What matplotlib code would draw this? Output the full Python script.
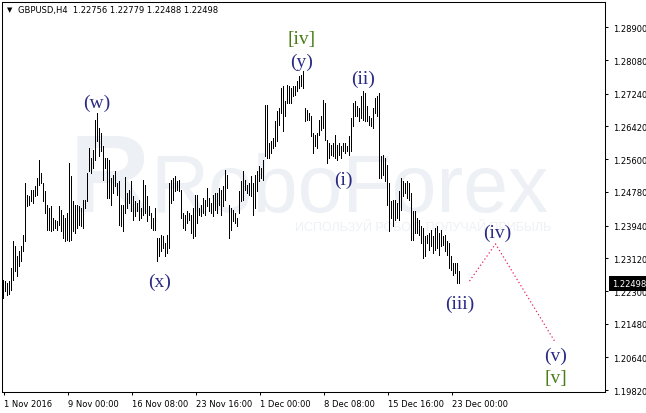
import matplotlib
matplotlib.use("Agg")
import matplotlib.pyplot as plt
import matplotlib.transforms as mtransforms
import numpy as np

# ---------------- data (GBPUSD H4 bars) ----------------
bar_high = [
    1.2256, 1.2254, 1.2249, 1.2254, 1.2286, 1.2354, 1.2341, 1.2316, 1.2329, 1.2341,
    1.2369, 1.2499, 1.2469, 1.2466, 1.2481, 1.2481, 1.2491, 1.2511, 1.2556, 1.2524,
    1.2499, 1.2479, 1.2444, 1.2436, 1.2441, 1.2411, 1.2406, 1.2404, 1.2441, 1.2431,
    1.2419, 1.2411, 1.2424, 1.2549, 1.2516, 1.2454, 1.2444, 1.2444, 1.2441, 1.2436,
    1.2456, 1.2456, 1.2524, 1.2586, 1.2561, 1.2581, 1.2656, 1.2674, 1.2636, 1.2624,
    1.2591, 1.2561, 1.2561, 1.2556, 1.2511, 1.2519, 1.2529, 1.2499, 1.2504, 1.2444,
    1.2444, 1.2514, 1.2474, 1.2481, 1.2504, 1.2466, 1.2454, 1.2449, 1.2456, 1.2436,
    1.2506, 1.2494, 1.2466, 1.2441, 1.2424, 1.2411, 1.2436, 1.2361, 1.2361, 1.2369,
    1.2366, 1.2349, 1.2369, 1.2499, 1.2506, 1.2511, 1.2516, 1.2504, 1.2506, 1.2481,
    1.2424, 1.2419, 1.2429, 1.2424, 1.2419, 1.2436, 1.2469, 1.2469, 1.2436, 1.2444,
    1.2461, 1.2456, 1.2486, 1.2461, 1.2449, 1.2469, 1.2474, 1.2474, 1.2486, 1.2481,
    1.2491, 1.2531, 1.2519, 1.2444, 1.2436, 1.2431, 1.2424, 1.2411, 1.2479, 1.2504,
    1.2529, 1.2506, 1.2494, 1.2499, 1.2516, 1.2499, 1.2519, 1.2529, 1.2541, 1.2536,
    1.2556, 1.2694, 1.2694, 1.2599, 1.2604, 1.2611, 1.2654, 1.2679, 1.2686, 1.2736,
    1.2741, 1.2704, 1.2744, 1.2741, 1.2736, 1.2741, 1.2741, 1.2754, 1.2766, 1.2769,
    1.2779, 1.2686, 1.2681, 1.2674, 1.2666, 1.2624, 1.2619, 1.2624, 1.2656, 1.2666,
    1.2706, 1.2699, 1.2606, 1.2599, 1.2594, 1.2599, 1.2619, 1.2594, 1.2599, 1.2591,
    1.2599, 1.2599, 1.2591, 1.2616, 1.2661, 1.2699, 1.2704, 1.2691, 1.2686, 1.2716,
    1.2729, 1.2724, 1.2691, 1.2666, 1.2661, 1.2686, 1.2711, 1.2716, 1.2724, 1.2566,
    1.2569, 1.2561, 1.2544, 1.2499, 1.2454, 1.2456, 1.2456, 1.2449, 1.2479, 1.2511,
    1.2504, 1.2499, 1.2504, 1.2499, 1.2474, 1.2429, 1.2429, 1.2411, 1.2406, 1.2391,
    1.2386, 1.2366, 1.2369, 1.2374, 1.2381, 1.2366, 1.2386, 1.2391, 1.2374, 1.2381,
    1.2366, 1.2369, 1.2354, 1.2349, 1.2316, 1.2299, 1.2299, 1.2299, 1.22779,
]
bar_low = [
    1.2211, 1.2229, 1.2219, 1.2221, 1.2231, 1.2256, 1.2279, 1.2266, 1.2291, 1.2304,
    1.2329, 1.2354, 1.2441, 1.2444, 1.2454, 1.2449, 1.2466, 1.2469, 1.2494, 1.2499,
    1.2454, 1.2424, 1.2381, 1.2381, 1.2379, 1.2381, 1.2386, 1.2381, 1.2394, 1.2379,
    1.2361, 1.2354, 1.2356, 1.2354, 1.2356, 1.2379, 1.2374, 1.2386, 1.2394, 1.2391,
    1.2386, 1.2436, 1.2454, 1.2529, 1.2524, 1.2536, 1.2556, 1.2604, 1.2566, 1.2579,
    1.2506, 1.2536, 1.2461, 1.2461, 1.2444, 1.2474, 1.2491, 1.2469, 1.2394, 1.2391,
    1.2379, 1.2424, 1.2436, 1.2449, 1.2429, 1.2406, 1.2416, 1.2429, 1.2406, 1.2411,
    1.2419, 1.2424, 1.2404, 1.2419, 1.2386, 1.2381, 1.2381, 1.2304, 1.2316, 1.2329,
    1.2336, 1.2316, 1.2324, 1.2336, 1.2449, 1.2456, 1.2479, 1.2481, 1.2479, 1.2411,
    1.2386, 1.2381, 1.2399, 1.2406, 1.2374, 1.2361, 1.2366, 1.2399, 1.2419, 1.2416,
    1.2424, 1.2419, 1.2441, 1.2429, 1.2424, 1.2416, 1.2431, 1.2424, 1.2444, 1.2419,
    1.2441, 1.2456, 1.2486, 1.2361, 1.2381, 1.2404, 1.2399, 1.2391, 1.2424, 1.2454,
    1.2456, 1.2481, 1.2474, 1.2469, 1.2466, 1.2419, 1.2436, 1.2479, 1.2504, 1.2511,
    1.2506, 1.2566, 1.2561, 1.2561, 1.2574, 1.2586, 1.2591, 1.2604, 1.2644, 1.2674,
    1.2629, 1.2666, 1.2699, 1.2699, 1.2699, 1.2716, 1.2719, 1.2729, 1.2736, 1.2741,
    1.2736, 1.2654, 1.2656, 1.2656, 1.2616, 1.2574, 1.2591, 1.2586, 1.2619, 1.2631,
    1.2636, 1.2606, 1.2549, 1.2561, 1.2569, 1.2566, 1.2561, 1.2556, 1.2569, 1.2561,
    1.2579, 1.2574, 1.2579, 1.2569, 1.2579, 1.2641, 1.2666, 1.2666, 1.2654, 1.2661,
    1.2656, 1.2654, 1.2654, 1.2644, 1.2641, 1.2636, 1.2674, 1.2666, 1.2511, 1.2511,
    1.2519, 1.2504, 1.2444, 1.2379, 1.2411, 1.2391, 1.2406, 1.2411, 1.2406, 1.2431,
    1.2466, 1.2474, 1.2461, 1.2456, 1.2356, 1.2356, 1.2374, 1.2374, 1.2369, 1.2349,
    1.2311, 1.2316, 1.2349, 1.2331, 1.2341, 1.2324, 1.2331, 1.2336, 1.2319, 1.2341,
    1.2344, 1.2329, 1.2319, 1.2286, 1.2281, 1.2269, 1.2274, 1.2249, 1.22488,
]
last_ohlc = ["1.22756", "1.22779", "1.22488", "1.22498"]
last_price = 1.22498

date_labels = ["1 Nov 2016", "9 Nov 00:00", "16 Nov 08:00", "23 Nov 16:00",
               "1 Dec 00:00", "8 Dec 08:00", "15 Dec 16:00", "23 Dec 00:00"]
date_bar_index = [0, 32, 64, 96, 128, 160, 192, 224]

price_ticks = [1.28900, 1.28080, 1.27240, 1.26420, 1.25600, 1.24780,
               1.23940, 1.23120, 1.22300, 1.21480, 1.20640, 1.19820]

# Elliott wave labels: text, bar position, price, kind
wave_text = ["(w)", "(x)", "[iv]", "(y)", "(i)", "(ii)", "(iii)", "(iv)", "(v)", "[v]"]
wave_x = [46.5, 78, 149, 149, 170, 180, 228, 247, 276, 276]
wave_y = [1.2703, 1.2255, 1.2861, 1.2806, 1.2510, 1.2761, 1.2200, 1.2378, 1.2070, 1.2015]
wave_kind = ["minor", "minor", "major", "minor", "minor", "minor", "minor", "minor", "minor", "major"]

# forecast path
forecast_x = [233, 246, 275.5]
forecast_y = [1.2255, 1.2348, 1.2105]

# ---------------- figure ----------------
W, H = 646, 414
fig = plt.figure(figsize=(W / 100, H / 100), dpi=100)
fig.patch.set_facecolor("white")

left_px, right_px, top_px, bottom_px = 2.0, 605.0, 2.7, 393.0
ax = fig.add_axes([left_px / W, 1 - bottom_px / H,
                   (right_px - left_px) / W, (bottom_px - top_px) / H])
ax.set_zorder(2)
ax.patch.set_alpha(0)

# watermark (behind the axes)
wm_color = "#edf0f4"
fig.text(150 / W, 1 - 212 / H, "RoboForex", fontsize=58, family="Liberation Sans",
         color=wm_color, ha="left", va="baseline", zorder=0)
fig.text(70 / W, 1 - 212 / H, "R", fontsize=80, family="Liberation Sans", weight="bold",
         color=wm_color, ha="left", va="baseline", zorder=0)
fig.text(295 / W, 1 - 228 / H, "ИСПОЛЬЗУЙ РОБОТ  ПОЛУЧАЙ ПРИБЫЛЬ", fontsize=9,
         family="Liberation Sans", color="#eef1f5", ha="left", va="center", zorder=0)

x = np.arange(len(bar_high))
ax.vlines(x, bar_low, bar_high, colors="black", linewidth=0.72, antialiased=False,
          snap=False, zorder=3)

ax.set_xlim(-0.75, -0.75 + (right_px - left_px) / 2)
ax.set_ylim(1.19775, 1.29540)

for s in ax.spines.values():
    s.set_color("black")
    s.set_linewidth(0.75)

ax.yaxis.tick_right()
ax.set_yticks(price_ticks)
ax.set_yticklabels([f"{v:.5f}" for v in price_ticks])
ax.tick_params(axis="y", direction="out", length=2.5, width=0.75, labelsize=6,
               pad=3, colors="black")
ax.set_xticks(date_bar_index)
ax.set_xticklabels(date_labels)
ax.tick_params(axis="x", direction="out", length=2.5, width=0.75, labelsize=6,
               pad=2.5, colors="black")
for lbl in ax.get_xticklabels():
    lbl.set_horizontalalignment("left")

# forecast dotted line
ax.plot(forecast_x, forecast_y, color="#e8255a", linestyle=(0, (1, 2)), linewidth=0.9, zorder=4)

# wave labels
for t, wx, wy, k in zip(wave_text, wave_x, wave_y, wave_kind):
    c = "#4a7d16" if k == "major" else "#2a2a85"
    ax.text(wx, wy, t, fontsize=14, family="Liberation Serif", color=c,
            ha="center", va="center", zorder=5)

# current price box
trans = mtransforms.blended_transform_factory(ax.transAxes, ax.transData)
ax.text(1 + 7 / (right_px - left_px), last_price, f"{last_price:.5f}", transform=trans,
        fontsize=6, color="white", ha="left", va="center", zorder=10, clip_on=False,
        bbox=dict(boxstyle="square,pad=0.35", fc="black", ec="none"))

# title
fig.text(9.5 / W, 1 - 10.5 / H, "▼", fontsize=5, color="black", ha="center", va="center")
fig.text(18 / W, 1 - 10.5 / H, "GBPUSD,H4  " + " ".join(last_ohlc), fontsize=6,
         color="black", ha="left", va="center")

fig.savefig("out.png", dpi=100, facecolor="white")
